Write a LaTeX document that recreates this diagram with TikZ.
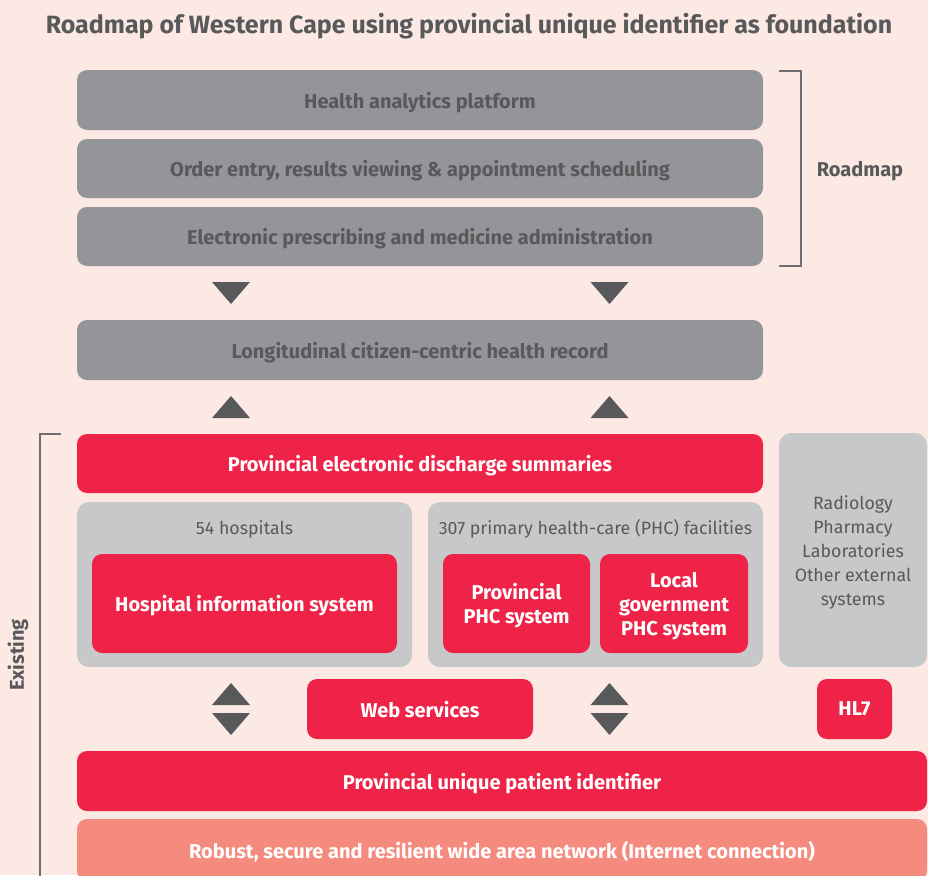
\documentclass[tikz,border=0pt]{standalone}
\usepackage{fontspec}
\setmainfont{Fira Sans}
\usetikzlibrary{positioning,calc}

\definecolor{bgpink}{HTML}{FDE9E3}
\definecolor{boxdark}{HTML}{939598}
\definecolor{boxlight}{HTML}{C7C8CA}
\definecolor{textgray}{HTML}{58595B}
\definecolor{linegray}{HTML}{6D6E71}
\definecolor{wcred}{HTML}{EE2347}
\definecolor{wcsalmon}{HTML}{F58A7E}

\tikzset{
    box/.style={rectangle, rounded corners=10pt, inner sep=0pt, align=center, text depth=0pt,
        font=\bfseries\fontsize{20}{24}\selectfont},
    darkbox/.style={box, fill=boxdark, text=textgray},
    redbox/.style={box, fill=wcred, text=white},
    groupbox/.style={rectangle, rounded corners=12pt, fill=boxlight, inner sep=0pt},
    grouptext/.style={text=textgray, align=center, font=\fontsize{17.8}{24}\selectfont},
    sidetext/.style={text=textgray, font=\bfseries\fontsize{20}{24}\selectfont},
    bracket/.style={draw=linegray, line width=1.3pt},
    arrowtri/.style={fill=textgray}
}

\begin{document}
\begin{tikzpicture}[x=1pt,y=-1pt]
    \clip (0,0) rectangle (928,875);
    \fill[bgpink] (0,0) rectangle (928,875);

    % Title
    \node[text=textgray, font=\bfseries\fontsize{25}{28}\selectfont] (title) at (469,26)
        {Roadmap of Western Cape using provincial unique identifier as foundation};

    % Roadmap layers
    \node[darkbox, minimum width=686pt, minimum height=60pt] (analytics) at (420,100) {Health analytics platform};
    \node[darkbox, minimum width=686pt, minimum height=59pt] (orders) at (420,168.5) {Order entry, results viewing \& appointment scheduling};
    \node[darkbox, minimum width=686pt, minimum height=59pt] (prescribing) at (420,236.5) {Electronic prescribing and medicine administration};
    \draw[bracket] (779,71) -- (801,71) -- (801,266) -- (779,266);
    \node[sidetext] (roadmap) at (860,171) {Roadmap};

    % Longitudinal record with arrows
    \foreach \ax in {231,609.5} {
        \fill[arrowtri] (\ax-19,282) -- (\ax+19,282) -- (\ax,304) -- cycle;
        \fill[arrowtri] (\ax-19,418) -- (\ax+19,418) -- (\ax,396) -- cycle;
    }
    \node[darkbox, minimum width=686pt, minimum height=60pt] (record) at (420,350) {Longitudinal citizen-centric health record};

    % Existing systems
    \draw[bracket] (61,434) -- (40,434) -- (40,880);
    \node[sidetext, rotate=90] (existing) at (18,655) {Existing};

    \node[redbox, minimum width=686pt, minimum height=59pt] (discharge) at (420,463.5) {Provincial electronic discharge summaries};

    \node[groupbox, minimum width=335pt, minimum height=165pt] (hospitals) at (244.5,584.5) {};
    \node[grouptext] (hosplabel) at (244.5,529) {54 hospitals};
    \node[redbox, minimum width=305pt, minimum height=99pt] (his) at (244.5,603.5) {Hospital information system};

    \node[groupbox, minimum width=335pt, minimum height=165pt] (phc) at (595.5,584.5) {};
    \node[grouptext] (phclabel) at (595.5,529) {307 primary health-care (PHC) facilities};
    \node[redbox, minimum width=147pt, minimum height=99pt] (provphc) at (516.5,603.5) {Provincial\\PHC system};
    \node[redbox, minimum width=148pt, minimum height=99pt] (localphc) at (674,603.5) {Local\\government\\PHC system};

    \node[groupbox, minimum width=148pt, minimum height=234pt] (external) at (853,550)
        {};
    \node[grouptext] (extlabel) at (853,552) {Radiology\\Pharmacy\\Laboratories\\Other external\\systems};

    % Interfaces
    \foreach \ax in {231,609.5} {
        \fill[arrowtri] (\ax-19,705) -- (\ax+19,705) -- (\ax,683) -- cycle;
        \fill[arrowtri] (\ax-19,713) -- (\ax+19,713) -- (\ax,735) -- cycle;
    }
    \node[redbox, minimum width=226pt, minimum height=60pt] (webservices) at (420,709) {Web services};
    \node[redbox, minimum width=75pt, minimum height=60pt] (hl7) at (854.5,709) {HL7};

    % Foundation
    \node[redbox, minimum width=850pt, minimum height=60pt] (identifier) at (502,781) {Provincial unique patient identifier};
    \node[box, fill=wcsalmon, text=white, minimum width=850pt, minimum height=62pt] (network) at (502,850)
        {Robust, secure and resilient wide area network (Internet connection)};
\end{tikzpicture}
\end{document}
